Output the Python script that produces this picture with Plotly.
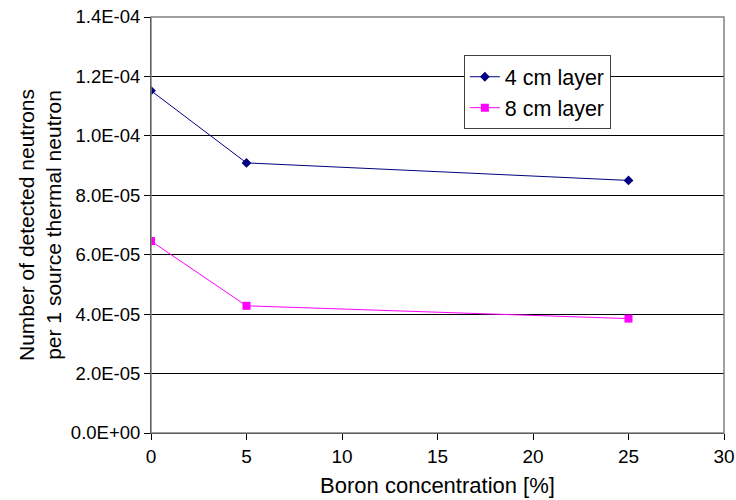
import plotly.graph_objects as go

boron_pct = [0, 5, 25]
layer_4cm = [1.152e-4, 9.09e-5, 8.5e-5]
layer_8cm = [6.46e-5, 4.28e-5, 3.85e-5]
y_tick_vals = [0, 2e-5, 4e-5, 6e-5, 8e-5, 1e-4, 1.2e-4, 1.4e-4]
y_tick_labels = ["0.0E+00", "2.0E-05", "4.0E-05", "6.0E-05", "8.0E-05",
                 "1.0E-04", "1.2E-04", "1.4E-04"]
x_tick_vals = [0, 5, 10, 15, 20, 25, 30]

FONT = "Liberation Sans, Arial, sans-serif"

fig = go.Figure()
fig.add_trace(go.Scatter(
    x=boron_pct, y=layer_4cm, name="4 cm layer", mode="lines+markers",
    line=dict(color="#000080", width=1),
    marker=dict(symbol="diamond", size=7.5, color="#000080"),
))
fig.add_trace(go.Scatter(
    x=boron_pct, y=layer_8cm, name="8 cm layer", mode="lines+markers",
    line=dict(color="#FF00FF", width=1),
    marker=dict(symbol="square", size=8, color="#FF00FF"),
))

fig.update_layout(
    width=736, height=500,
    margin=dict(l=151, r=12, t=17, b=67, autoexpand=False),
    paper_bgcolor="white", plot_bgcolor="white",
    font=dict(family=FONT, size=19, color="black"),
    showlegend=True,
    legend=dict(
        x=0.546, y=0.908, xanchor="left", yanchor="top",
        bgcolor="white", bordercolor="#404040", borderwidth=1,
        font=dict(family=FONT, size=21.5, color="black"),
        tracegroupgap=0, itemwidth=30,
    ),
    shapes=[dict(type="rect", xref="paper", yref="paper", x0=0, y0=0, x1=1, y1=1,
                 line=dict(color="#808080", width=1.5), layer="above")],
)
fig.update_xaxes(
    range=[0, 30], tickvals=x_tick_vals, ticks="outside", ticklen=6,
    tickcolor="black", showgrid=False, zeroline=False, automargin=False,
    showline=True, linecolor="black", linewidth=1,
    tickfont=dict(family=FONT, size=19),
    title=dict(text="Boron concentration [%]", font=dict(family=FONT, size=22), standoff=11),
)
fig.update_yaxes(
    range=[0, 1.4e-4], tickvals=y_tick_vals, ticktext=y_tick_labels,
    ticks="outside", ticklen=6, tickcolor="black", automargin=False,
    showgrid=True, gridcolor="black", gridwidth=1, zeroline=False,
    showline=True, linecolor="black", linewidth=1,
    tickfont=dict(family=FONT, size=18.5),
    title=dict(text="Number of detected neutrons<br>per 1 source thermal neutron",
               font=dict(family=FONT, size=21), standoff=3),
)

fig.write_html("out.html")
